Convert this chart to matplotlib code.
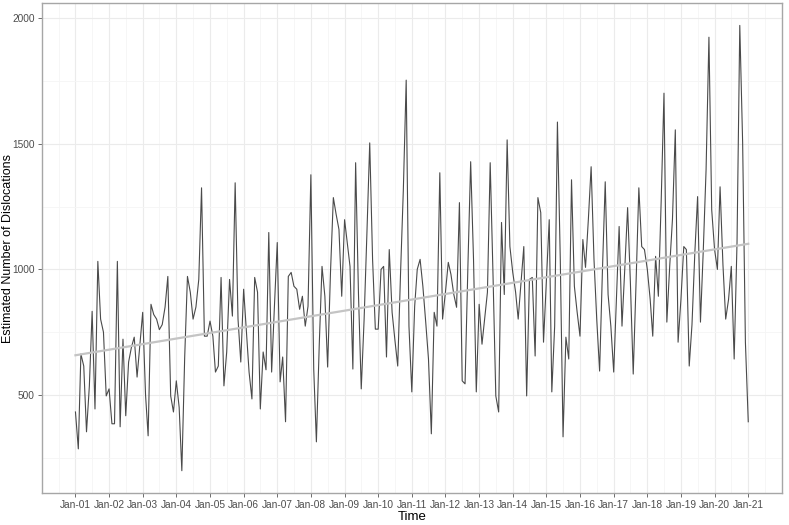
import numpy as np
import pandas as pd
import matplotlib
matplotlib.use("Agg")
import matplotlib.pyplot as plt
import matplotlib.dates as mdates
from matplotlib.ticker import MultipleLocator, FixedLocator

plt.rcParams['font.family'] = ['Liberation Sans', 'DejaVu Sans']

# monthly estimates, Jan 2001 .. Jan 2021 (one row per year)
y2001 = [432, 285, 663, 615, 353, 536, 833, 444, 1032, 802, 750, 496]
y2002 = [524, 385, 385, 1032, 373, 722, 417, 631, 690, 730, 571, 700]
y2003 = [829, 500, 337, 861, 820, 802, 760, 780, 850, 972, 496, 432]
y2004 = [556, 450, 198, 650, 972, 909, 802, 850, 960, 1325, 734, 734]
y2005 = [794, 734, 591, 615, 968, 536, 671, 960, 814, 1345, 802, 631]
y2006 = [921, 750, 591, 484, 968, 909, 444, 671, 600, 1147, 591, 850]
y2007 = [1107, 552, 651, 393, 972, 988, 933, 921, 841, 893, 774, 853]
y2008 = [1377, 603, 313, 700, 1012, 893, 611, 988, 1286, 1220, 1159, 893]
y2009 = [1198, 1100, 1012, 603, 1425, 900, 524, 800, 1150, 1504, 1040, 762]
y2010 = [762, 1000, 1012, 651, 1079, 829, 720, 615, 988, 1317, 1754, 774]
y2011 = [512, 853, 1000, 1040, 933, 790, 643, 345, 829, 774, 1385, 802]
y2012 = [909, 1028, 980, 900, 849, 1266, 556, 544, 1012, 1429, 1040, 512]
y2013 = [861, 702, 802, 909, 1425, 972, 496, 432, 1187, 900, 1516, 1091]
y2014 = [988, 909, 802, 950, 1091, 496, 960, 968, 655, 1286, 1226, 710]
y2015 = [950, 1198, 512, 774, 1587, 1040, 333, 730, 643, 1357, 933, 830]
y2016 = [734, 1119, 1008, 1200, 1409, 1040, 800, 595, 1000, 1349, 900, 774]
y2017 = [591, 900, 1171, 774, 1000, 1246, 950, 583, 950, 1325, 1091, 1079]
y2018 = [1000, 881, 734, 1052, 893, 1278, 1702, 790, 1012, 1200, 1556, 710]
y2019 = [880, 1091, 1079, 615, 780, 1067, 1290, 790, 1080, 1397, 1925, 1238]
y2020 = [1080, 1000, 1329, 1020, 802, 880, 1012, 643, 1107, 1972, 1504, 710]
y2021 = [393]

values = (y2001 + y2002 + y2003 + y2004 + y2005 + y2006 + y2007 + y2008 +
          y2009 + y2010 + y2011 + y2012 + y2013 + y2014 + y2015 + y2016 +
          y2017 + y2018 + y2019 + y2020 + y2021)
dates = pd.date_range("2001-01-01", periods=len(values), freq="MS")

df = pd.DataFrame({"date": dates, "count": values})

fig = plt.figure(figsize=(7.89, 5.25), dpi=100)
ax = fig.add_axes([0.053, 0.061, 0.938, 0.933])

ax.plot(df["date"], df["count"], color="#4a4a4a", lw=0.8, zorder=3)

# linear trend (geom_smooth method = lm)
xnum = mdates.date2num(df["date"])
slope, intercept = np.polyfit(xnum, df["count"], 1)
ax.plot(df["date"], slope * xnum + intercept, color="#c4c4c4", lw=1.6, zorder=4)

ax.margins(x=0.05, y=0.05)

jan_ticks = mdates.date2num(pd.date_range("2001-01-01", "2021-01-01", freq="YS"))
mid_ticks = mdates.date2num(pd.date_range("2000-07-01", "2021-07-01", freq="12MS"))
ax.xaxis.set_major_locator(FixedLocator(jan_ticks))
ax.xaxis.set_minor_locator(FixedLocator(mid_ticks))
ax.xaxis.set_major_formatter(mdates.DateFormatter("%b-%y"))
ax.yaxis.set_major_locator(MultipleLocator(500))
ax.yaxis.set_minor_locator(MultipleLocator(250))

ax.grid(True, which="major", color="#ebebeb", lw=0.8, zorder=0)
ax.grid(True, which="minor", color="#f5f5f5", lw=0.6, zorder=0)
ax.set_axisbelow(True)

for s in ax.spines.values():
    s.set_color("#a6a6a6")
    s.set_linewidth(1.0)

ax.tick_params(which="major", length=3, width=0.6, color="#555555",
               labelcolor="#4d4d4d", labelsize=7.3, pad=2)
ax.tick_params(which="minor", length=0)

ax.set_xlabel("Time", fontsize=9.5, labelpad=1)
ax.set_ylabel("Estimated Number of Dislocations", fontsize=9)
ax.yaxis.set_label_coords(-0.037, 0.5)

fig.savefig("out.png", dpi=100)
